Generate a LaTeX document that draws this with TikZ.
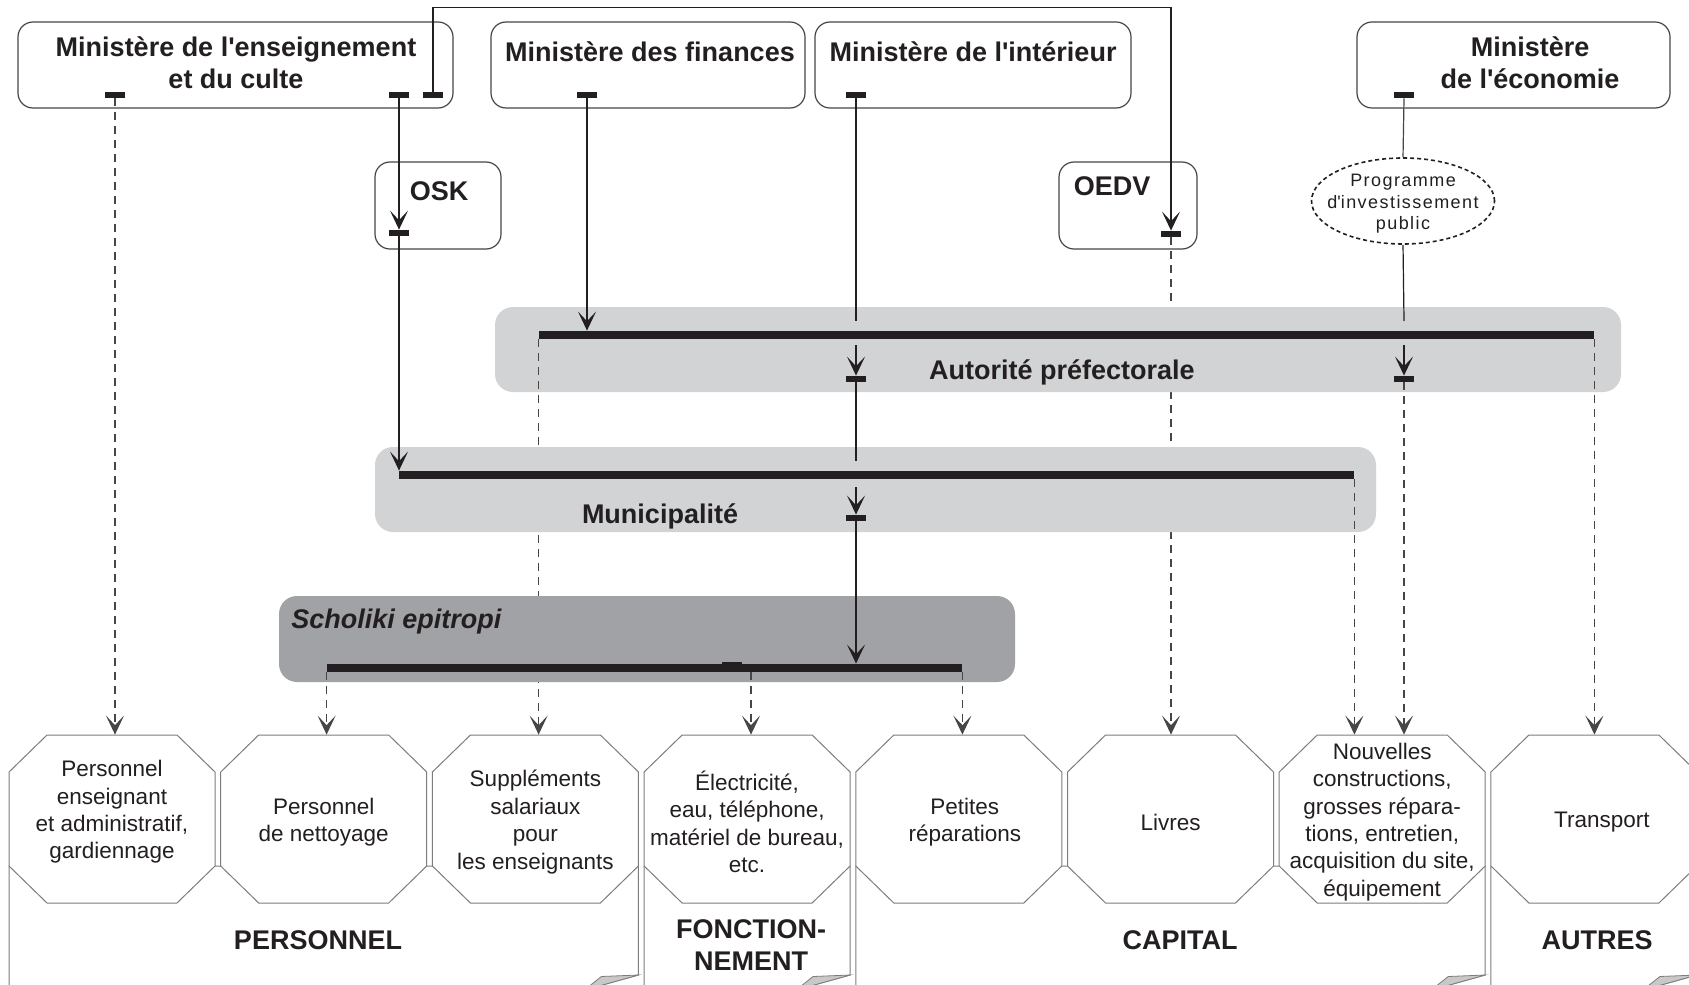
\documentclass[tikz,border=0pt]{standalone}
\usepackage{fontspec}
\setmainfont{Liberation Sans}
\newfontfamily\spacedfont[LetterSpace=8]{Liberation Sans}
\usetikzlibrary{arrows.meta, shapes.geometric}

\definecolor{ink}{RGB}{35,31,32}
\definecolor{lightband}{RGB}{209,211,212}
\definecolor{darkband}{RGB}{161,162,165}
\definecolor{frame}{RGB}{70,70,70}
\definecolor{octoline}{RGB}{125,125,125}
\definecolor{foldfill}{RGB}{200,200,200}
\newcommand{\apost}{\textquotesingle}

\begin{document}
\begin{tikzpicture}[x=0.5pt, y=-0.5pt,
  ministry/.style={draw=frame, line width=0.6pt, rounded corners=7.5pt, minimum height=43pt, inner sep=0pt},
  title/.style={font=\bfseries\fontsize{13.5}{16}\selectfont, text=ink, align=center, inner sep=0pt},
  port/.style={fill=ink, inner sep=0pt, minimum width=10pt, minimum height=3pt},
  band/.style={fill=lightband, rounded corners=9pt, minimum height=42.5pt, inner sep=0pt},
  bus/.style={fill=ink, inner sep=0pt, minimum height=4pt},
  wire/.style={draw=ink, line width=0.75pt},
  flow/.style={wire, -{Stealth[length=9.5pt, width=9pt, inset=4.8pt]}},
  share/.style={flow, draw=frame, line width=0.55pt, dash pattern=on 4pt off 3pt},
  item/.style={minimum width=103pt, minimum height=84pt, inner sep=0pt},
  itemline/.style={draw=octoline, line width=0.5pt, fill=white},
  itemtext/.style={font=\fontsize{11.25}{13.7}\selectfont, text=ink, align=center, inner sep=0pt, yshift=-1.5pt},
  sheet/.style={draw=octoline, line width=0.5pt, fill=white},
  fold/.style={draw=octoline, line width=0.4pt, fill=foldfill}]
  \useasboundingbox (0,0) rectangle (1689,984);
  \clip (0,0) rectangle (1689,984);
  \fill[white] (0,0) rectangle (1689,984);

  % Sheets behind the expense items
  \foreach \l/\r in {9/638.4, 644.1/850.1, 855.8/1485.2, 1490.9/1696.9}{
    \draw[sheet] (\l,1000) -- (\l,866) -- (\r,866) -- (\r,975) -- (\r-54,990);
    \draw[fold] (\r,975) -- (\r-37,976.5) -- (\r-54,990) -- cycle;
  }
  \node[title] (perslabel) at (318,940) {PERSONNEL};
  \node[title] (fonclabel) at (751,945) {FONCTION-\\NEMENT};
  \node[title] (caplabel) at (1180,940) {CAPITAL};
  \node[title] (autlabel) at (1597,940) {AUTRES};

  % Expense items: octagons, then their texts
  \foreach \cx in {112, 323.7, 535.4, 747.1, 958.8, 1170.5, 1382.2, 1593.9}
    \draw[itemline] (\cx-65,735) -- (\cx+65,735) -- (\cx+103,772) -- (\cx+103,866)
      -- (\cx+65,903) -- (\cx-65,903) -- (\cx-103,866) -- (\cx-103,772) -- cycle;
  \node[item, label={[itemtext, yshift=5pt]center:{Personnel\\enseignant\\et administratif,\\gardiennage}}] (oct1) at (112,819) {};
  \node[item, label={[itemtext]center:{Personnel\\de nettoyage}}] (oct2) at (323.7,819) {};
  \node[item, label={[itemtext]center:{Suppléments\\salariaux\\pour\\les enseignants}}] (oct3) at (535.4,819) {};
  \node[item, label={[itemtext]center:{Électricité,\\eau, téléphone,\\matériel de bureau,\\etc.}}] (oct4) at (747.1,819) {};
  \node[item, label={[itemtext, xshift=3pt]center:{Petites\\réparations}}] (oct5) at (958.8,819) {};
  \node[item, label={[itemtext]center:{Livres}}] (oct6) at (1170.5,819) {};
  \node[item, label={[itemtext]center:{Nouvelles\\constructions,\\grosses répara-\\tions, entretien,\\acquisition du site,\\équipement}}] (oct7) at (1382.2,819) {};
  \node[item, label={[itemtext, xshift=4pt]center:{Transport}}] (oct8) at (1593.9,819) {};

  % Ministries and offices
  \node[ministry, minimum width=217.5pt] (ens) at (235.5,65) {};
  \node[ministry, minimum width=157pt] (fin) at (648,65) {};
  \node[ministry, minimum width=158pt] (int) at (973,65) {};
  \node[ministry, minimum width=156.5pt] (eco) at (1513.5,65) {};
  \node[ministry, minimum width=63pt, minimum height=43.5pt] (osk) at (438,205.5) {};
  \node[ministry, minimum width=69pt, minimum height=43.5pt] (oedv) at (1128,205.5) {};
  \node[title] (enstitle) at (236,63) {Ministère de l\apost enseignement\\et du culte};
  \node[title] (fintitle) at (650,52) {Ministère des finances};
  \node[title] (inttitle) at (973,52) {Ministère de l\apost intérieur};
  \node[title] (ecotitle) at (1530,63) {Ministère\\de l\apost économie};
  \node[title] (osktitle) at (439,191) {OSK};
  \node[title] (oedvtitle) at (1112,186) {OEDV};
  \node[draw=ink, ellipse, line width=0.8pt, dash pattern=on 2pt off 1.5pt, minimum width=91.5pt, minimum height=43pt, inner sep=0pt,
    label={[font=\spacedfont\fontsize{9}{10.75}\selectfont, text=ink, align=center, inner sep=0pt, yshift=-1.5pt]center:{Programme\\d\apost investissement\\public}}] (pip) at (1403,201) {};

  \node[port] (ensport1) at (115,95) {};
  \node[port] (ensport2) at (399,95) {};
  \node[port] (ensport3) at (433,95) {};
  \node[port] (finport) at (587,95) {};
  \node[port] (intport) at (856,95) {};
  \node[port] (ecoport) at (1404,95) {};
  \node[port] (oskport) at (399,233) {};
  \node[port] (oedvport) at (1171,234) {};

  \draw[share] (oedvport.south) -- (oedvport |- oct6.north);
  \draw[share] (ensport1.south) -- (ensport1 |- oct1.north);

  % Autorité préfectorale
  \node[band, minimum width=563pt] (pref) at (1058,349.5) {};
  \node[bus, minimum width=527.5pt] (prefbus) at (1066.5,335) {};
  \node[port] (prefport1) at (856,379) {};
  \node[port] (prefport2) at (1404,379) {};
  \node[title] (preflabel) at (1062,372) {Autorité préfectorale};
  \draw[share] (prefbus.south west) -- (prefbus.south west |- oct3.north);
  \draw[share] (prefbus.south east) -- (prefbus.south east |- oct8.north);
  \draw[share] (prefport2.south) -- (prefport2 |- oct7.north);

  % Municipalité
  \node[band, minimum width=500.5pt] (mun) at (875.5,489.5) {};
  \node[bus, minimum width=477.5pt] (munbus) at (876.5,475) {};
  \node[port] (munport) at (856,518) {};
  \node[title] (munlabel) at (660,516) {Municipalité};
  \draw[share] (munbus.south east) -- (munbus.south east |- oct7.north);

  % Scholiki epitropi
  \node[band, fill=darkband, minimum width=368pt, minimum height=43pt] (scho) at (647,639) {};
  \node[bus, minimum width=317.5pt] (schobus) at (644.5,668) {};
  \node[port] (schoport) at (732,665) {};
  \node[title, font=\bfseries\itshape\fontsize{13.5}{16}\selectfont, anchor=west] (scholabel) at (291,622) {Scholiki epitropi};
  \coordinate (schotap) at (751,672);
  \draw[share] (schobus.south west) -- (schobus.south west |- oct2.north);
  \draw[share] (schotap) -- (schotap |- oct4.north);
  \draw[share] (schobus.south east) -- (schobus.south east |- oct5.north);

  % Lines
  \coordinate (loop) at (1171,7.5);
  \draw[flow, line width=0.6pt] (ensport3.north) |- (loop) -- (oedvport.north);
  \draw[flow, line width=0.6pt] (ensport2.south) -- (oskport.north);
  \draw[flow, line width=0.6pt] (oskport.south) -- (oskport |- munbus.north);
  \draw[flow] (finport.south) -- (finport |- prefbus.north);
  \coordinate (intin) at (856,321);
  \coordinate (intout) at (856,345);
  \draw[wire] (intport.south) -- (intin);
  \draw[flow] (intout) -- (prefport1.north);
  \coordinate (prefin) at (856,461);
  \coordinate (prefout) at (856,487);
  \draw[wire] (prefport1.south) -- (prefin);
  \draw[flow] (prefout) -- (munport.north);
  \draw[flow] (munport.south) -- (munport |- schobus.north);
  \draw[wire, draw=frame, line width=0.6pt] (ecoport.south) -- (pip.north);
  \coordinate (ecoin) at (1404,321);
  \coordinate (ecoout) at (1404,345);
  \draw[wire, line width=0.6pt] (pip.south) -- (ecoin);
  \draw[flow] (ecoout) -- (prefport2.north);
\end{tikzpicture}
\end{document}
